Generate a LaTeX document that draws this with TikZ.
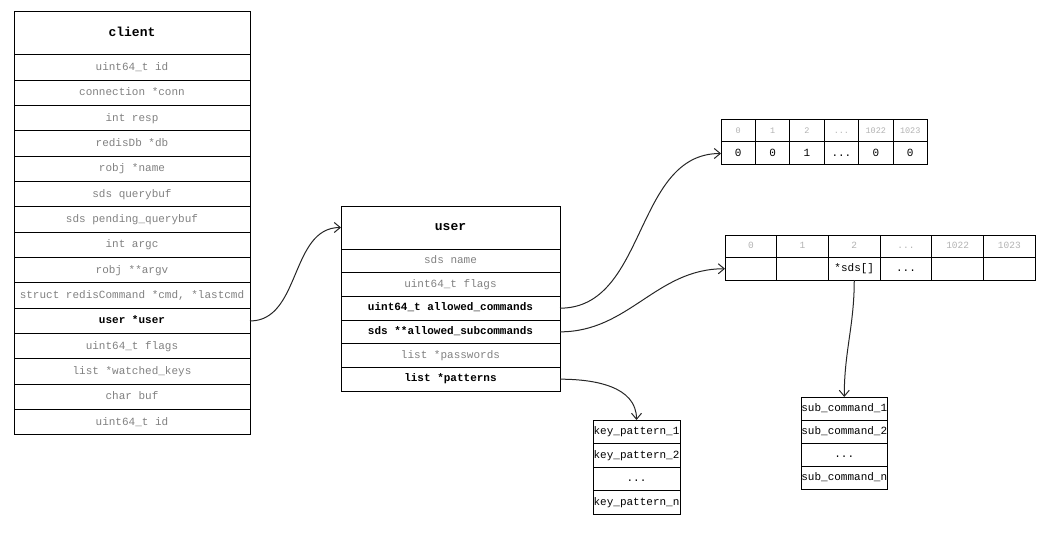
\documentclass[tikz,border=0pt]{standalone}
\usepackage{fontspec}
\setmonofont{Liberation Mono}
\usetikzlibrary{positioning,arrows.meta}
\newcommand\more{...}
\tikzset{
  box/.style={draw, line width=1pt, outer sep=0pt, inner sep=0pt, text height=7.5pt, text depth=2pt, font=\ttfamily\fontsize{11}{13}\selectfont},
  hdr/.style={box, text height=9pt, text depth=2.5pt, font=\ttfamily\bfseries\fontsize{13}{15}\selectfont},
  idx/.style={box, text=black!30, text height=6pt, text depth=1.5pt, font=\ttfamily\fontsize{8.5}{10}\selectfont},
  ptr/.style={line width=1pt, black!85, -{Straight Barb[length=6pt,width=10pt]}},
}
\begin{document}
\begin{tikzpicture}

  \useasboundingbox (0,0) rectangle (1048pt,-548pt);

  % client
  \node[hdr, minimum width=236pt, minimum height=43pt, anchor=north west] (c0) at (14pt,-12pt) {client};
  \foreach \txt/\col [count=\i, remember=\i as \j (initially 0)] in
    {uint64\_t id/black!50, connection *conn/black!50, int resp/black!50,
     redisDb *db/black!50, robj *name/black!50, sds querybuf/black!50,
     sds pending\_querybuf/black!50, int argc/black!50, robj **argv/black!50,
     {struct redisCommand *cmd, *lastcmd}/black!50, \bfseries user *user/black,
     uint64\_t flags/black!50, list *watched\_keys/black!50, char buf/black!50,
     uint64\_t id/black!50}
    \node[box, text=\col, minimum width=236pt, minimum height=25.33pt, below=0pt of c\j] (c\i) {\txt};

  % user
  \node[hdr, minimum width=219pt, minimum height=43pt, anchor=north west] (u0) at (341pt,-206pt) {user};
  \foreach \txt/\col [count=\i, remember=\i as \j (initially 0)] in
    {sds name/black!50, uint64\_t flags/black!50,
     \bfseries uint64\_t allowed\_commands/black,
     \bfseries sds **allowed\_subcommands/black,
     list *passwords/black!50, \bfseries list *patterns/black}
    \node[box, text=\col, minimum width=219pt, minimum height=23.67pt, below=0pt of u\j] (u\i) {\txt};

  % allowed_commands bitmap
  \foreach \h/\v [count=\i] in {0/0, 1/0, 2/1, \more/\more, 1022/0, 1023/0} {
    \node[idx, minimum width=34.4pt, minimum height=22pt, anchor=north west] (bh\i) at ({721pt+(\i-1)*34.4pt},-120pt) {\h};
    \node[box, minimum width=34.4pt, minimum height=23pt, below=0pt of bh\i] (bv\i) {\v};
  }

  % allowed_subcommands array
  \foreach \h/\v [count=\i] in {0/{}, 1/{}, 2/*sds[], \more/\more, 1022/{}, 1023/{}} {
    \node[idx, font=\ttfamily\fontsize{9.5}{11}\selectfont, minimum width=51.7pt, minimum height=22.5pt, anchor=north west] (ah\i) at ({725pt+(\i-1)*51.7pt},-235pt) {\h};
    \node[box, minimum width=51.7pt, minimum height=22.5pt, below=0pt of ah\i] (av\i) {\v};
  }

  % patterns list
  \node[box, minimum width=87pt, minimum height=23.5pt, anchor=north west] (kp1) at (593pt,-420pt) {key\_pattern\_1};
  \node[box, minimum width=87pt, minimum height=23.5pt, below=0pt of kp1] (kp2) {key\_pattern\_2};
  \node[box, minimum width=87pt, minimum height=23.5pt, below=0pt of kp2] (kp3) {\more};
  \node[box, minimum width=87pt, minimum height=23.5pt, below=0pt of kp3] (kp4) {key\_pattern\_n};

  % sub commands
  \node[box, minimum width=86.5pt, minimum height=23pt, anchor=north west] (sc1) at (801pt,-397pt) {sub\_command\_1};
  \node[box, minimum width=86.5pt, minimum height=23pt, below=0pt of sc1] (sc2) {sub\_command\_2};
  \node[box, minimum width=86.5pt, minimum height=23pt, below=0pt of sc2] (sc3) {\more};
  \node[box, minimum width=86.5pt, minimum height=23pt, below=0pt of sc3] (sc4) {sub\_command\_n};

  \draw[ptr] (c11.east) to[out=0,in=180] (u0.west);
  \draw[ptr] (u3.east) to[out=0,in=180] (bv1.west);
  \draw[ptr] (u4.east) to[out=0,in=180] (av1.west);
  \draw[ptr] (u6.east) to[out=0,in=90] (kp1.north);
  \draw[ptr] (av3.south) to[out=-90,in=90] (sc1.north);

\end{tikzpicture}
\end{document}
